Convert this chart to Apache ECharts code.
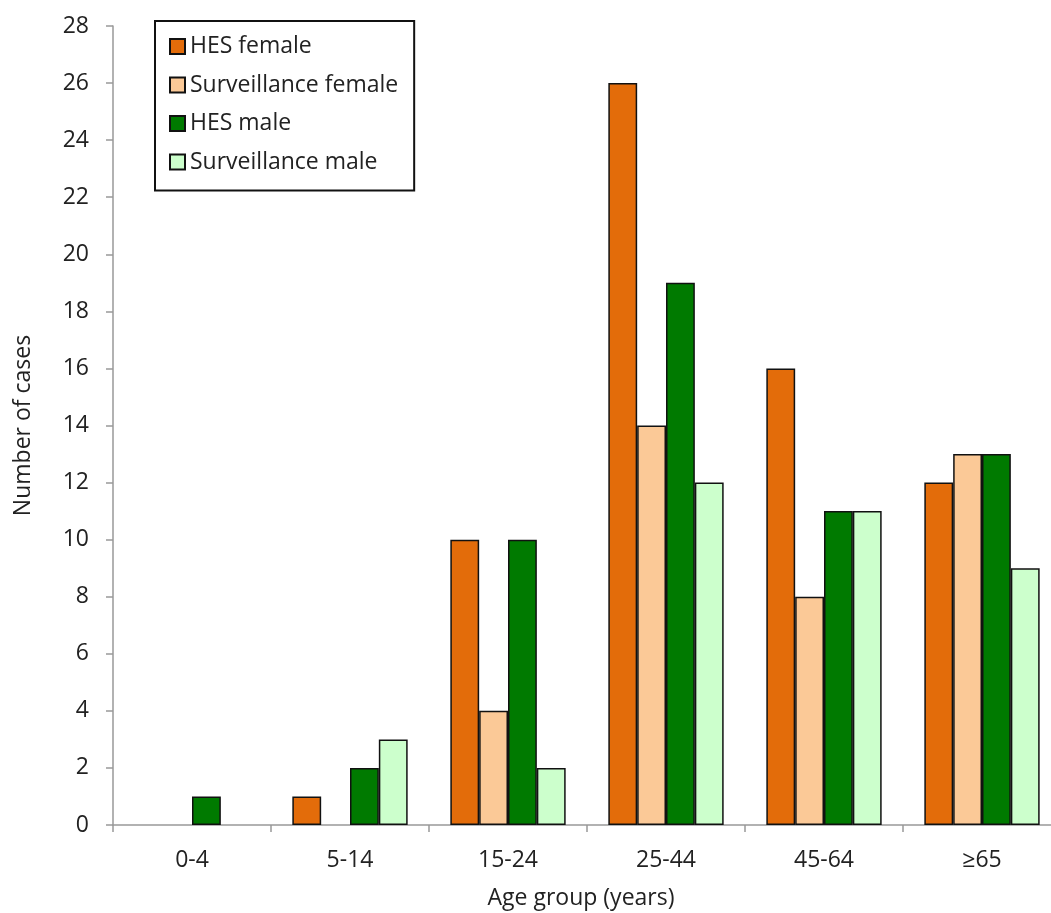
<!DOCTYPE html>
<html><head><meta charset="utf-8">
<script src="https://cdn.jsdelivr.net/npm/echarts@6/dist/echarts.min.js"></script>
<style>html,body{margin:0;padding:0;background:#fff}#c{width:1051px;height:913px}</style>
</head><body><div id="c"></div>
<script>
const categories = ['0-4', '5-14', '15-24', '25-44', '45-64', '≥65'];
const hesFemale = [0, 1, 10, 26, 16, 12];
const survFemale = [0, 0, 4, 14, 8, 13];
const hesMale = [1, 2, 10, 19, 11, 13];
const survMale = [0, 3, 2, 12, 11, 9];
const yTicks = [0, 28, 2]; // min, max, interval
const seriesNames = ['HES female', 'Surveillance female', 'HES male', 'Surveillance male'];
const colors = ['#E36C0A', '#FBC997', '#007A00', '#CCFFCC'];

const FONT = 'Open Sans';
const FS = 23;
const chart = echarts.init(document.getElementById('c'), null, {renderer: 'canvas'});
const data = [hesFemale, survFemale, hesMale, survMale];
chart.setOption({
  animation: false,
  textStyle: {fontFamily: FONT},
  grid: {left: 113, top: 26, width: 948, height: 799, containLabel: false, outerBoundsMode: 'none'},
  legend: {
    orient: 'vertical', left: 155, top: 21,
    padding: [14, 16, 17, 14],
    borderColor: '#111', borderWidth: 2,
    itemWidth: 15, itemHeight: 15, itemGap: 15.5,
    textStyle: {fontFamily: FONT, fontSize: FS, color: '#222'},
    data: seriesNames.map(n => ({name: n, icon: 'rect'}))
  },
  xAxis: {
    type: 'category', data: categories,
    name: 'Age group (years)', nameLocation: 'middle', nameGap: 62,
    nameTextStyle: {fontFamily: FONT, fontSize: FS, color: '#222', padding: [0, 12, 0, 0]},
    axisLine: {lineStyle: {color: '#999', width: 1.5}},
    axisTick: {show: true, length: 7, lineStyle: {color: '#999', width: 1.5}},
    axisLabel: {fontFamily: FONT, fontSize: FS, color: '#222', margin: 24}
  },
  yAxis: {
    type: 'value', min: yTicks[0], max: yTicks[1], interval: yTicks[2],
    name: 'Number of cases', nameLocation: 'middle', nameGap: 78,
    nameTextStyle: {fontFamily: FONT, fontSize: FS, color: '#222'},
    axisLine: {show: true, lineStyle: {color: '#999', width: 1.5}},
    axisTick: {show: true, length: 7, lineStyle: {color: '#999', width: 1.5}},
    splitLine: {show: false},
    axisLabel: {fontFamily: FONT, fontSize: FS, color: '#222', margin: 24}
  },
  series: seriesNames.map((n, i) => ({
    name: n, type: 'bar',
    data: data[i].map(v => v === 0 ? '-' : v),
    barGap: '0%', barCategoryGap: '27%',
    itemStyle: {color: colors[i], borderColor: '#111', borderWidth: 1.5}
  }))
});
</script></body></html>
